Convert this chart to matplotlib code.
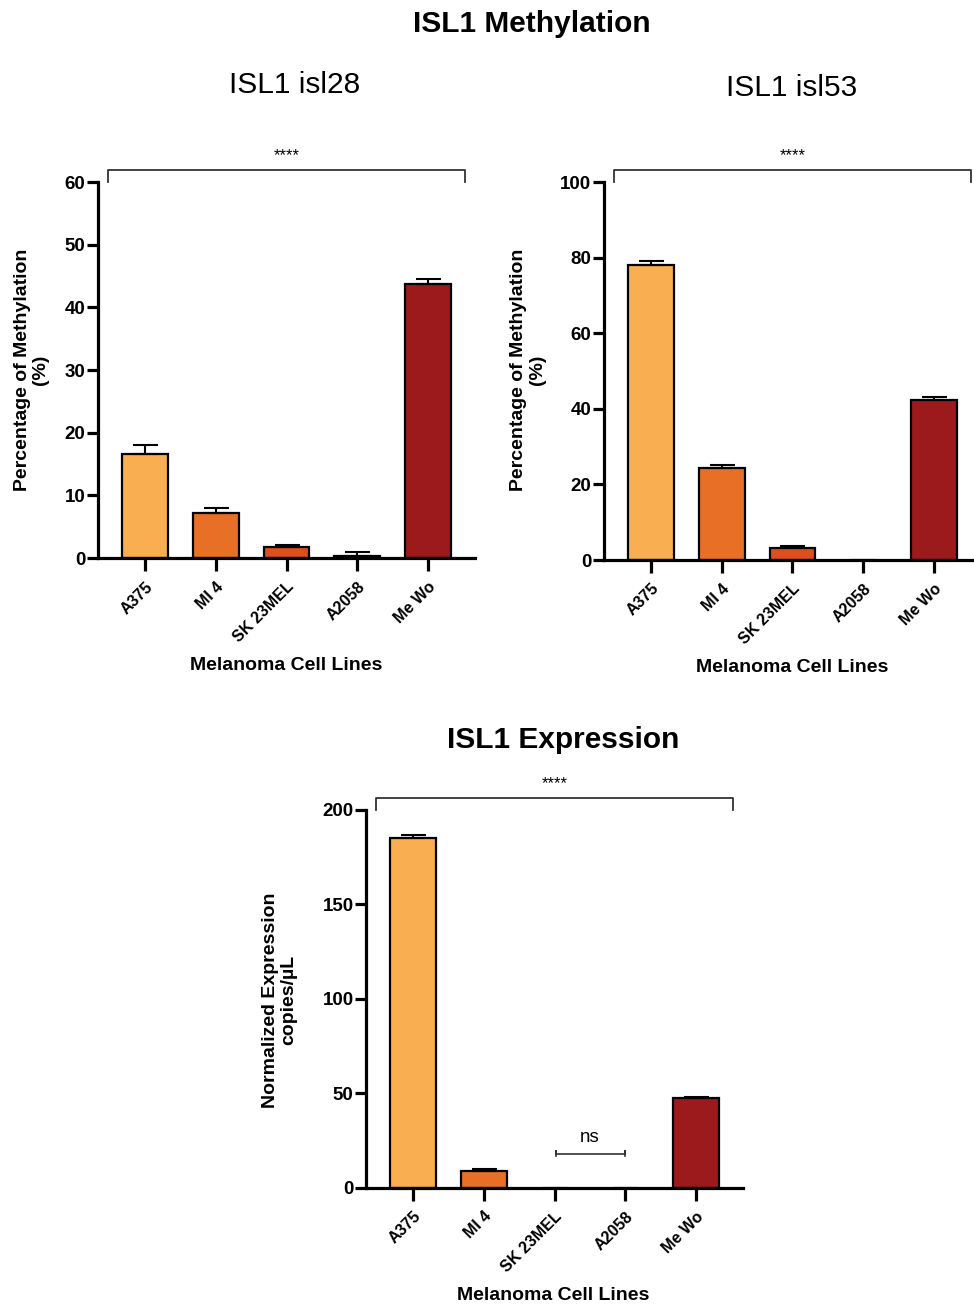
import matplotlib
matplotlib.use("Agg")
import matplotlib.pyplot as plt

plt.rcParams["font.family"] = ["Liberation Sans", "DejaVu Sans"]

# Data
cell_lines = ["A375", "MI 4", "SK 23MEL", "A2058", "Me Wo"]
bar_colors = ["#F9AE52", "#E87026", "#E04E1D", "#C8381B", "#9C1A1C"]

isl28_mean = [16.6, 7.2, 1.8, 0.4, 43.7]
isl28_sem = [1.4, 0.8, 0.3, 0.6, 0.9]

isl53_mean = [78.0, 24.3, 3.2, 0.0, 42.3]
isl53_sem = [1.0, 0.8, 0.4, 0.0, 0.8]

expr_mean = [185.0, 9.0, 0.0, 0.0, 47.6]
expr_sem = [1.6, 1.0, 0.0, 0.0, 0.6]

isl28_ticks = [0, 10, 20, 30, 40, 50, 60]
isl53_ticks = [0, 20, 40, 60, 80, 100]
expr_ticks = [0, 50, 100, 150, 200]


def draw_panel(ax, means, sems, ticks, sig_text="****"):
    x = list(range(len(means)))
    # no outline on empty bars, they just sit on the axis
    edges = [1.6 if m > 0 else 0 for m in means]
    ax.bar(x, means, width=0.65, color=bar_colors, edgecolor="black", linewidth=edges, zorder=2)
    ax.errorbar(x, means, yerr=[[0] * len(sems), sems], fmt="none", ecolor="black",
                elinewidth=1.5, capsize=9, capthick=1.5, zorder=3)
    ymax = ticks[-1]
    ax.set_xlim(-0.665, len(means) - 0.335)
    ax.set_ylim(0, ymax)
    ax.set_yticks(ticks)
    ax.set_xticks(x)
    ax.set_xticklabels(cell_lines, rotation=45, ha="right", va="top",
                       rotation_mode="anchor", fontsize=11.5, fontweight="bold")
    for lab in ax.get_yticklabels():
        lab.set_fontweight("bold")
        lab.set_fontsize(13.5)
    for side in ["top", "right"]:
        ax.spines[side].set_visible(False)
    for side in ["left", "bottom"]:
        ax.spines[side].set_linewidth(2.3)
    ax.tick_params(axis="y", length=8, width=2.3, pad=1)
    ax.tick_params(axis="x", length=9, width=2.3, pad=6)

    # significance bracket over all bars
    top = ymax * 1.032
    ax.plot([-0.52, -0.52, 4.52, 4.52], [ymax, top, top, ymax], color="#333333",
            linewidth=1.3, clip_on=False)
    ax.text(2, ymax * 1.05, sig_text, ha="center", va="bottom", fontsize=12)


fig = plt.figure(figsize=(9.74, 13.06), dpi=100)

ax1 = fig.add_axes([0.1006, 0.5727, 0.3871, 0.2879])
draw_panel(ax1, isl28_mean, isl28_sem, isl28_ticks)

ax2 = fig.add_axes([0.6201, 0.5712, 0.3871, 0.2894])
draw_panel(ax2, isl53_mean, isl53_sem, isl53_ticks)

ax3 = fig.add_axes([0.3758, 0.0904, 0.3871, 0.2894])
draw_panel(ax3, expr_mean, expr_sem, expr_ticks)

# ns bracket between SK 23MEL and A2058
ax3.plot([2.02, 2.02, 2.02, 3.0, 3.0, 3.0], [17, 19.5, 18.2, 18.2, 19.5, 17],
         color="#333333", linewidth=1.2)
ax3.text(2.5, 22, "ns", ha="center", va="bottom", fontsize=13.5)

# titles
fig.text(0.546, 0.982, "ISL1 Methylation", ha="center", va="center", fontsize=21.5, fontweight="bold")
fig.text(0.302, 0.935, "ISL1 isl28", ha="center", va="center", fontsize=21.5)
fig.text(0.813, 0.933, "ISL1 isl53", ha="center", va="center", fontsize=21.5)
fig.text(0.578, 0.4334, "ISL1 Expression", ha="center", va="center", fontsize=21.5, fontweight="bold")

# axis labels
ylab_kw = dict(rotation=90, ha="center", va="center", fontsize=14, fontweight="bold",
               multialignment="center", linespacing=1.1)
fig.text(0.032, 0.717, "Percentage of Methylation\n(%)", **ylab_kw)
fig.text(0.542, 0.717, "Percentage of Methylation\n(%)", **ylab_kw)
fig.text(0.2875, 0.234, "Normalized Expression\ncopies/µL", **ylab_kw)

xlab_kw = dict(ha="center", va="center", fontsize=14, fontweight="bold")
fig.text(286 / 974, 1 - 666 / 1306, "Melanoma Cell Lines", **xlab_kw)
fig.text(792 / 974, 1 - 667 / 1306, "Melanoma Cell Lines", **xlab_kw)
fig.text(553 / 974, 1 - 1296 / 1306, "Melanoma Cell Lines", **xlab_kw)

fig.savefig("out.png", dpi=100)
